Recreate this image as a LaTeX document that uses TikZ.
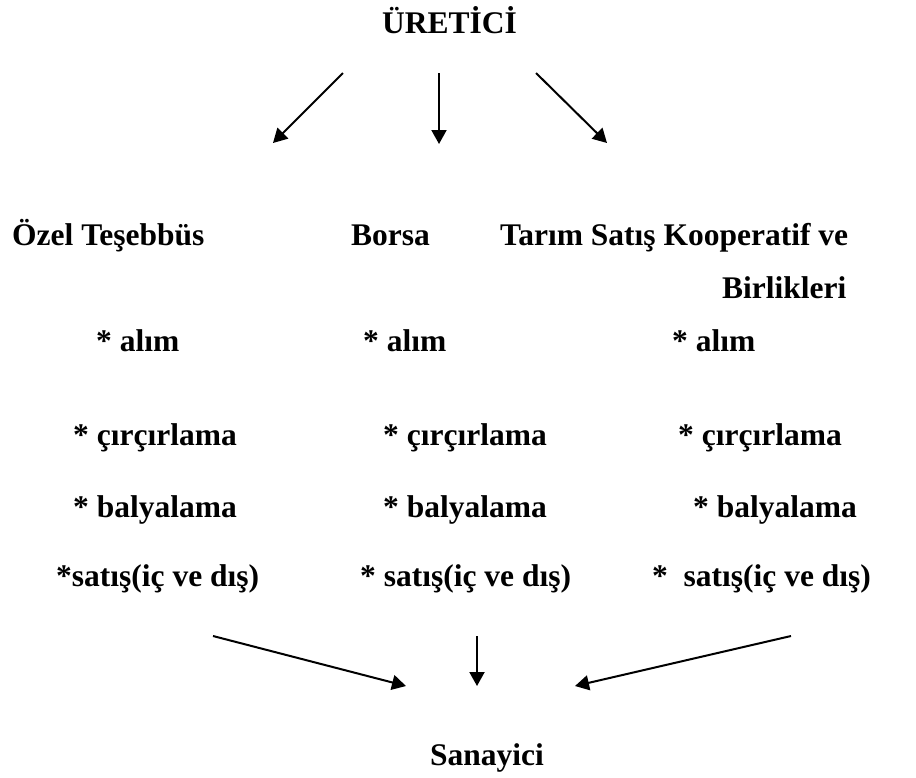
\documentclass[tikz,border=0pt]{standalone}
\usepackage{fontspec}
\setmainfont{Liberation Serif}
\usetikzlibrary{arrows.meta}
\begin{document}
\begin{tikzpicture}[x=1pt,y=-1pt,
  lbl/.style={anchor=base west,inner sep=0pt,font=\fontsize{31.5}{37}\selectfont\bfseries},
  arr/.style={line width=2pt,-{Triangle[length=14pt,width=15pt]}}]
\useasboundingbox (0,0) rectangle (916,777);
% titles
\node[lbl] (uretici) at (382,33) {ÜRETİCİ};
\node[lbl] (ozel) at (12,245) {Özel Teşebbüs};
\node[lbl] (borsa) at (351,245) {Borsa};
\node[lbl] (tarim) at (500,245) {Tarım Satış Kooperatif ve};
\node[lbl] (birlik) at (722,298) {Birlikleri};
% column 1
\node[lbl] (a1) at (96,351) {* alım};
\node[lbl] (c1) at (73,445) {* çırçırlama};
\node[lbl] (b1) at (73,517) {* balyalama};
\node[lbl] (s1) at (56,586) {*satış(iç ve dış)};
% column 2
\node[lbl] (a2) at (363,351) {* alım};
\node[lbl] (c2) at (383,445) {* çırçırlama};
\node[lbl] (b2) at (383,517) {* balyalama};
\node[lbl] (s2) at (360,586) {* satış(iç ve dış)};
% column 3
\node[lbl] (a3) at (672,351) {* alım};
\node[lbl] (c3) at (678,445) {* çırçırlama};
\node[lbl] (b3) at (693,517) {* balyalama};
\node[lbl] (s3) at (652,586) {*\ \ satış(iç ve dış)};
\node[lbl] (sanayici) at (430,765) {Sanayici};
% arrow end points
\coordinate (t1s) at (343,73); \coordinate (t1e) at (273,143);
\coordinate (t2s) at (439,73); \coordinate (t2e) at (439,144);
\coordinate (t3s) at (536,73); \coordinate (t3e) at (607,143);
\coordinate (b1s) at (213,636); \coordinate (b1e) at (406,686);
\coordinate (b2s) at (477,636); \coordinate (b2e) at (477,686);
\coordinate (b3s) at (791,636); \coordinate (b3e) at (575,686);
\draw[arr] (t1s) -- (t1e);
\draw[arr] (t2s) -- (t2e);
\draw[arr] (t3s) -- (t3e);
\draw[arr] (b1s) -- (b1e);
\draw[arr] (b2s) -- (b2e);
\draw[arr] (b3s) -- (b3e);
\end{tikzpicture}
\end{document}
